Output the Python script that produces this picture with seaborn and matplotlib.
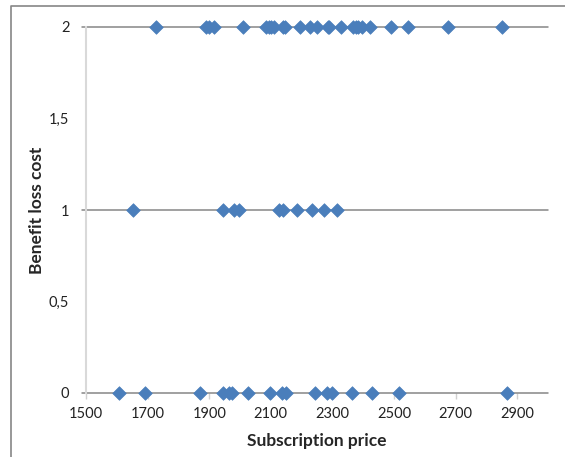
import matplotlib
matplotlib.use("Agg")
import matplotlib.pyplot as plt
import pandas as pd
import seaborn as sns
from matplotlib.lines import Line2D

sns.set_theme(style="white")
plt.rcParams["font.family"] = ["Lato", "DejaVu Sans"]

# subscription prices, grouped by benefit loss cost
price_cost2 = [1726, 1890, 1900, 1917, 2009, 2083, 2095, 2101, 2110, 2141, 2145,
               2195, 2226, 2251, 2285, 2290, 2329, 2366, 2375, 2382, 2397, 2423,
               2489, 2547, 2675, 2850]
price_cost1 = [1654, 1946, 1982, 1996, 2125, 2141, 2184, 2234, 2274, 2314]
price_cost0 = [1606, 1692, 1871, 1946, 1963, 1973, 2025, 2096, 2136, 2150, 2242,
               2282, 2298, 2363, 2428, 2515, 2866]

x_ticks = [1500, 1700, 1900, 2100, 2300, 2500, 2700, 2900]
y_ticks = [0, 0.5, 1, 1.5, 2]
y_tick_labels = ["0", "0,5", "1", "1,5", "2"]

df = pd.DataFrame({
    "price": price_cost2 + price_cost1 + price_cost0,
    "cost": [2] * len(price_cost2) + [1] * len(price_cost1) + [0] * len(price_cost0),
})

fig = plt.figure(figsize=(5.65, 4.57), dpi=100)
ax = fig.add_axes([86 / 565, 1 - 393 / 457, (548 - 86) / 565, (393 - 27) / 457])

for level in [0, 1, 2]:
    ax.axhline(level, xmin=-0.009, xmax=1, color="#868686", lw=1.1,
               clip_on=False, zorder=1)

sns.scatterplot(data=df, x="price", y="cost", marker="D", s=48,
                color="#4a7ebb", edgecolor="#4a7ebb", linewidth=0.5,
                ax=ax, clip_on=False, zorder=3)

ax.set_xlim(1500, 3000)
ax.set_ylim(0, 2)
ax.set_xticks(x_ticks)
ax.set_xticklabels([str(t) for t in x_ticks])
ax.set_yticks(y_ticks)
ax.set_yticklabels(y_tick_labels)
ax.tick_params(axis="x", length=4, color="#d0d0d0", width=1, pad=6,
               labelsize=10.5, labelcolor="#222222", bottom=True)
ax.tick_params(axis="y", length=0, pad=12, labelsize=10.5, labelcolor="#222222")

for side in ["top", "right", "bottom"]:
    ax.spines[side].set_visible(False)
ax.spines["left"].set_color("#d9d9d9")
ax.spines["left"].set_linewidth(1.5)

ax.set_xlabel("Subscription price", fontsize=12.5, fontweight="bold", labelpad=9)
ax.set_ylabel("Benefit loss cost", fontsize=12.5, fontweight="bold", labelpad=3)

# chart area border
fig.add_artist(Line2D([11 / 565, 11 / 565, 1.0], [0.0, 1 - 6 / 457, 1 - 6 / 457],
                      transform=fig.transFigure, color="#868686", lw=1.2))

fig.savefig("out.png", dpi=100)
